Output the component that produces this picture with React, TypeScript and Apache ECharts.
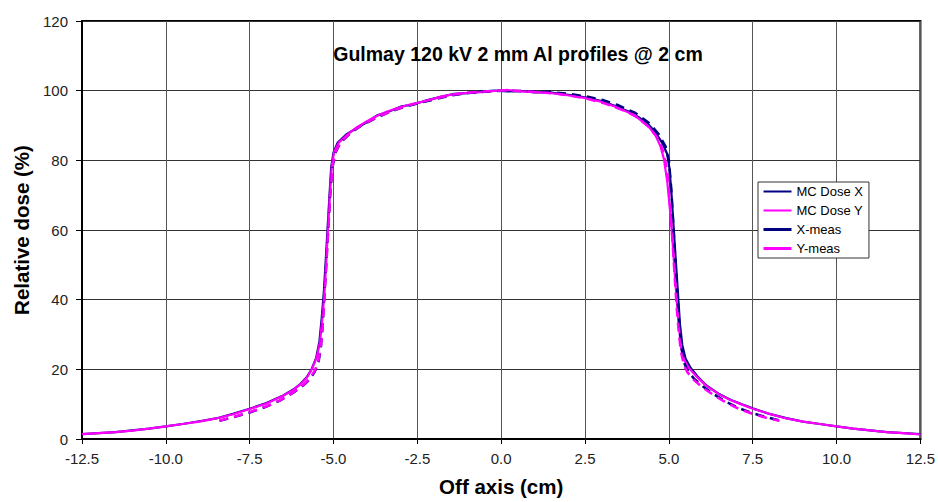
import React, { useEffect, useRef } from "react";
import * as echarts from "echarts";

const TITLE = "Gulmay 120 kV 2 mm Al profiles @ 2 cm";
const X_NAME = "Off axis (cm)";
const Y_NAME = "Relative dose (%)";
const SERIES_NAMES = ["MC Dose X", "MC Dose Y", "X-meas", "Y-meas"];

const mcDoseX: [number, number][] = [
  [-12.5, 1.4], [-12.0, 1.7], [-11.5, 2.0], [-11.0, 2.5], [-10.5, 3.0], [-10.0, 3.6],
  [-9.5, 4.3], [-9.0, 5.1], [-8.5, 5.9], [-8.0, 7.2], [-7.5, 8.7], [-7.0, 10.3],
  [-6.5, 12.5], [-6.2, 14.2], [-6.0, 15.7], [-5.8, 17.7], [-5.65, 20.1], [-5.52, 23.2],
  [-5.42, 28], [-5.35, 35], [-5.29, 42], [-5.24, 50], [-5.18, 60], [-5.12, 70],
  [-5.07, 78], [-5.0, 82.3], [-4.88, 85], [-4.6, 87.6], [-4.3, 89.3], [-4.0, 91.0],
  [-3.7, 92.9], [-3.4, 93.8], [-3.0, 95.4], [-2.6, 96.1], [-2.2, 97.3], [-1.8, 98.2],
  [-1.4, 99.1], [-1.0, 99.3], [-0.6, 99.7], [-0.2, 100.0], [0.2, 99.8], [0.6, 99.9],
  [1.0, 99.5], [1.4, 99.6], [1.8, 99.0], [2.2, 98.6], [2.6, 97.9], [3.0, 97.0],
  [3.4, 95.6], [3.8, 94.0], [4.1, 92.4], [4.4, 90.2], [4.6, 88.0], [4.8, 85.0],
  [4.95, 81.8], [5.02, 77.5], [5.08, 70], [5.14, 61], [5.2, 52], [5.27, 42],
  [5.33, 33], [5.4, 27], [5.5, 23], [5.65, 20.4], [5.85, 18.0], [6.1, 15.5],
  [6.5, 12.9], [6.85, 11.2], [7.2, 9.9], [7.5, 8.8], [8.0, 7.2], [8.5, 6.0],
  [9.0, 5.0], [9.5, 4.3], [10.0, 3.6], [10.5, 3.0], [11.0, 2.5], [11.5, 2.0],
  [12.0, 1.7], [12.5, 1.4],
];

const mcDoseY: [number, number][] = [
  [-12.5, 1.4], [-12.0, 1.7], [-11.5, 2.0], [-11.0, 2.4], [-10.5, 3.0], [-10.0, 3.6],
  [-9.5, 4.3], [-9.0, 5.0], [-8.5, 5.9], [-8.0, 7.1], [-7.5, 8.6], [-7.0, 10.2],
  [-6.5, 12.4], [-6.2, 14.1], [-6.0, 15.6], [-5.8, 17.6], [-5.65, 20.0], [-5.5, 23.5],
  [-5.4, 28], [-5.33, 35], [-5.27, 42], [-5.22, 50], [-5.17, 60], [-5.11, 70],
  [-5.05, 78.5], [-4.98, 82.5], [-4.85, 85], [-4.6, 87.3], [-4.3, 89.5], [-4.0, 91.2],
  [-3.7, 92.8], [-3.4, 94.0], [-3.0, 95.3], [-2.6, 96.3], [-2.2, 97.1], [-1.8, 98.3],
  [-1.4, 99.0], [-1.0, 99.4], [-0.6, 99.6], [-0.2, 99.9], [0.2, 100.2], [0.6, 99.8],
  [1.0, 99.6], [1.4, 99.4], [1.8, 98.9], [2.2, 98.4], [2.6, 97.7], [3.0, 96.8],
  [3.4, 95.4], [3.8, 93.7], [4.1, 92.0], [4.4, 89.6], [4.6, 87.2], [4.75, 84.0],
  [4.85, 80.5], [4.95, 74], [5.03, 66], [5.1, 58], [5.17, 48], [5.24, 39],
  [5.3, 32], [5.37, 26], [5.45, 22.8], [5.6, 20.3], [5.8, 18.2], [6.1, 15.4],
  [6.5, 12.8], [6.85, 11.1], [7.2, 9.8], [7.5, 8.7], [8.0, 7.2], [8.5, 5.9],
  [9.0, 5.0], [9.5, 4.3], [10.0, 3.6], [10.5, 3.0], [11.0, 2.5], [11.5, 2.0],
  [12.0, 1.7], [12.5, 1.3],
];

const xMeas: [number, number][] = [
  [-8.4, 5.2], [-8.0, 6.2], [-7.5, 7.6], [-7.0, 9.3], [-6.6, 11.0], [-6.2, 13.3],
  [-5.9, 15.4], [-5.7, 17.2], [-5.55, 19.5], [-5.45, 22], [-5.38, 26], [-5.33, 32],
  [-5.28, 40], [-5.22, 50], [-5.16, 60], [-5.1, 70], [-5.03, 78], [-4.95, 82],
  [-4.8, 85], [-4.5, 87.8], [-4.2, 89.8], [-3.8, 91.8], [-3.4, 93.6], [-3.0, 95.0],
  [-2.5, 96.3], [-2.0, 97.5], [-1.5, 98.6], [-1.0, 99.3], [-0.5, 99.7], [0.0, 100.0],
  [0.5, 99.9], [1.0, 99.8], [1.5, 99.6], [2.0, 99.1], [2.5, 98.4], [3.0, 97.4],
  [3.5, 95.8], [4.0, 93.6], [4.4, 90.8], [4.7, 87.5], [4.9, 84], [5.0, 80],
  [5.07, 72], [5.13, 62], [5.19, 52], [5.25, 42], [5.31, 33], [5.38, 26],
  [5.45, 22], [5.55, 19.8], [5.75, 17.3], [6.0, 15.2], [6.35, 12.8], [6.7, 10.7],
  [7.1, 8.8], [7.5, 7.4], [7.9, 6.3], [8.3, 5.3],
];

const yMeas: [number, number][] = [
  [-8.4, 5.3], [-8.0, 6.3], [-7.5, 7.7], [-7.0, 9.4], [-6.6, 11.1], [-6.2, 13.4],
  [-5.9, 15.5], [-5.7, 17.4], [-5.55, 19.8], [-5.45, 22.5], [-5.37, 27], [-5.32, 33],
  [-5.27, 41], [-5.21, 51], [-5.15, 61], [-5.09, 71], [-5.02, 79], [-4.93, 82.8],
  [-4.75, 85.6], [-4.45, 88.3], [-4.1, 90.5], [-3.7, 92.4], [-3.3, 94.0], [-2.9, 95.4],
  [-2.4, 96.7], [-1.9, 97.9], [-1.4, 98.9], [-0.9, 99.5], [-0.4, 99.8], [0.1, 100.1],
  [0.6, 99.9], [1.1, 99.6], [1.6, 99.2], [2.1, 98.5], [2.6, 97.6], [3.1, 96.3],
  [3.6, 94.5], [4.0, 92.8], [4.4, 89.6], [4.7, 86], [4.85, 82], [4.95, 77],
  [5.03, 68], [5.1, 58], [5.17, 47], [5.23, 38], [5.3, 30], [5.36, 25],
  [5.45, 21.2], [5.55, 19.2], [5.75, 16.9], [6.0, 14.8], [6.35, 12.5], [6.7, 10.5],
  [7.1, 8.6], [7.5, 7.2], [7.9, 6.1], [8.3, 5.2],
];

const X_MIN = -12.5;
const X_MAX = 12.5;
const X_STEP = 2.5;
const Y_MIN = 0;
const Y_MAX = 120;
const Y_STEP = 20;

const NAVY = "#000080";
const MAGENTA = "#FF00FF";
const FONT = "'Liberation Sans', Arial, sans-serif";

export default function App() {
  const ref = useRef<HTMLDivElement>(null);

  useEffect(() => {
    if (!ref.current) return;
    const chart = echarts.init(ref.current, undefined, { renderer: "svg" });
    const seriesData = [mcDoseX, mcDoseY, xMeas, yMeas];
    const colors = [NAVY, MAGENTA, NAVY, MAGENTA];
    const dashed = [false, false, true, true];

    chart.setOption({
      animation: false,
      backgroundColor: "#ffffff",
      textStyle: { fontFamily: FONT },
      title: {
        text: TITLE,
        left: 513,
        top: 39,
        textAlign: "center",
        textStyle: { fontSize: 19.5, fontWeight: "bold", color: "#000", fontFamily: FONT },
      },
      grid: {
        left: 82,
        top: 21,
        width: 839,
        height: 421,
        show: true,
        borderColor: "#000",
        borderWidth: 2,
        backgroundColor: "#fff",
      },
      legend: {
        orient: "vertical",
        left: 758,
        top: 182,
        itemWidth: 28,
        itemHeight: 14,
        itemGap: 6,
        padding: [3, 6, 3, 4],
        backgroundColor: "#fff",
        borderColor: "#333",
        borderWidth: 1,
        borderRadius: 0,
        itemStyle: { opacity: 0 },
        textStyle: { fontSize: 13, color: "#000", fontFamily: FONT },
        data: SERIES_NAMES.map((n, i) =>
          dashed[i] ? { name: n, lineStyle: { type: "solid", width: 3 } } : { name: n }
        ),
      },
      xAxis: {
        type: "value",
        min: X_MIN,
        max: X_MAX,
        interval: X_STEP,
        name: X_NAME,
        nameLocation: "middle",
        nameGap: 37,
        nameTextStyle: { fontSize: 20.5, fontWeight: "bold", color: "#000", fontFamily: FONT },
        axisLine: { show: true, onZero: false, lineStyle: { color: "#000", width: 2 } },
        axisTick: { show: true, inside: false, length: 5, lineStyle: { color: "#000", width: 1 } },
        axisLabel: {
          margin: 12,
          fontSize: 15,
          color: "#222",
          fontFamily: FONT,
          formatter: (v: number) => v.toFixed(1),
        },
        splitLine: { show: true, lineStyle: { color: "#555", width: 1 } },
      },
      yAxis: {
        type: "value",
        min: Y_MIN,
        max: Y_MAX,
        interval: Y_STEP,
        name: Y_NAME,
        nameLocation: "middle",
        nameGap: 46,
        nameTextStyle: { fontSize: 20.5, fontWeight: "bold", color: "#000", fontFamily: FONT },
        axisLine: { show: true, onZero: false, lineStyle: { color: "#000", width: 2 } },
        axisTick: { show: true, inside: false, length: 6, lineStyle: { color: "#000", width: 1 } },
        axisLabel: { margin: 14, fontSize: 15, color: "#222", fontFamily: FONT },
        splitLine: { show: true, lineStyle: { color: "#333", width: 1 } },
      },
      series: SERIES_NAMES.map((n, i) => ({
        name: n,
        type: "line",
        data: seriesData[i],
        showSymbol: false,
        symbol: "circle",
        smooth: false,
        color: colors[i],
        itemStyle: { color: colors[i] },
        lineStyle: {
          color: colors[i],
          width: dashed[i] ? 2.5 : 2.2,
          type: dashed[i] ? [9, 6] : "solid",
        },
        z: 2 + i,
      })),
    });

    return () => chart.dispose();
  }, []);

  return (
    <div
      ref={ref}
      style={{ position: "fixed", left: 0, top: 0, width: 938, height: 502, background: "#fff" }}
    />
  );
}
